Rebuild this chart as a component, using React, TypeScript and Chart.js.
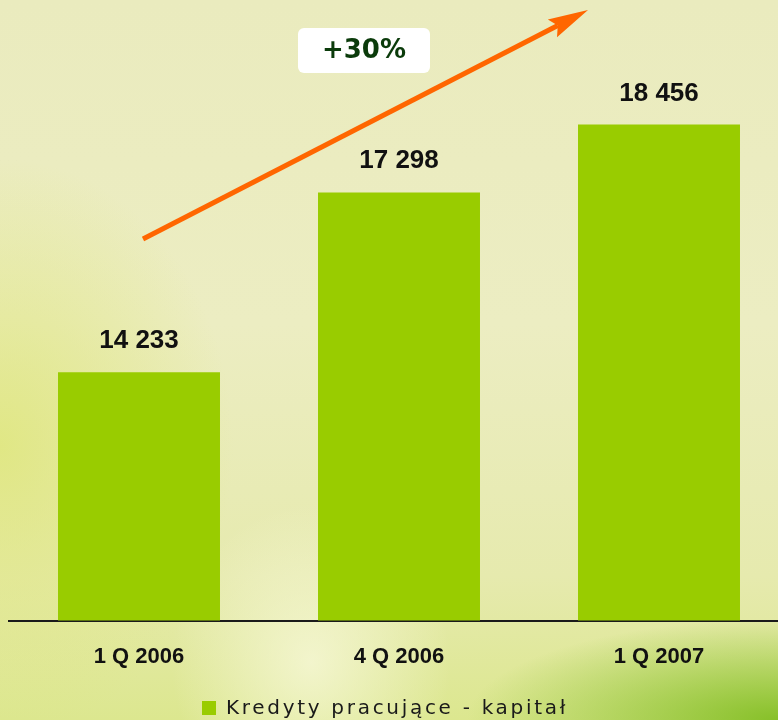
import React, { useEffect, useRef } from "react";
import { Chart, registerables } from "chart.js";

Chart.register(...registerables);

// ---- data ----
const categories = ["1 Q 2006", "4 Q 2006", "1 Q 2007"];
const values = [14233, 17298, 18456];
const seriesName = "Kredyty pracujące - kapitał";
const yMin = 10000;
const yMax = 20000;

// ---- styles ----
const BAR_COLOR = "#99CC00";
const ARROW_COLOR = "#FF6600";
const TEXT_COLOR = "#111111";

const fmt = (v: number) => String(v).replace(/\B(?=(\d{3})+(?!\d))/g, " ");
const growthPct = Math.round((values[values.length - 1] / values[0] - 1) * 100);

const valueLabels = {
  id: "valueLabels",
  afterDatasetsDraw(chart: any) {
    const ctx = chart.ctx;
    const meta = chart.getDatasetMeta(0);
    ctx.save();
    ctx.font = "bold 26px 'Liberation Sans', Arial, sans-serif";
    ctx.fillStyle = TEXT_COLOR;
    ctx.textAlign = "center";
    ctx.textBaseline = "alphabetic";
    meta.data.forEach((bar: any, i: number) => {
      ctx.fillText(fmt(chart.data.datasets[0].data[i]), bar.x, bar.y - 24);
    });
    ctx.restore();
  },
};

const decorations = {
  id: "decorations",
  afterDraw(chart: any) {
    const ctx = chart.ctx;
    ctx.save();
    // trend arrow
    const sx = 143, sy = 239, tx = 588, ty = 10;
    const dx = tx - sx, dy = ty - sy;
    const len = Math.hypot(dx, dy);
    const ux = dx / len, uy = dy / len;
    const px = -uy, py = ux;
    const headLen = 40, headW = 10;
    const bx = tx - ux * headLen, by = ty - uy * headLen;
    ctx.strokeStyle = ARROW_COLOR;
    ctx.lineWidth = 5;
    ctx.lineCap = "butt";
    ctx.beginPath();
    ctx.moveTo(sx, sy);
    ctx.lineTo(bx + ux * 6, by + uy * 6);
    ctx.stroke();
    ctx.fillStyle = ARROW_COLOR;
    ctx.beginPath();
    ctx.moveTo(tx, ty);
    ctx.lineTo(bx + px * headW, by + py * headW);
    ctx.lineTo(bx + ux * 6, by + uy * 6);
    ctx.lineTo(bx - px * headW, by - py * headW);
    ctx.closePath();
    ctx.fill();

    // growth badge
    const rx = 298, ry = 28, rw = 132, rh = 45;
    ctx.fillStyle = "#FFFFFF";
    ctx.beginPath();
    (ctx as any).roundRect(rx, ry, rw, rh, 6);
    ctx.fill();
    ctx.fillStyle = "#0B3B0B";
    ctx.font = "bold 26px 'DejaVu Sans', Verdana, sans-serif";
    ctx.textAlign = "center";
    ctx.textBaseline = "middle";
    ctx.fillText("+" + growthPct + "%", rx + rw / 2, ry + rh / 2 + 1);

    // legend
    const ds = chart.data.datasets[0];
    ctx.fillStyle = ds.backgroundColor;
    ctx.fillRect(202, 701, 14, 14);
    ctx.fillStyle = "#1a1a1a";
    ctx.font = "20px 'DejaVu Sans', Verdana, sans-serif";
    (ctx as any).letterSpacing = "2.7px";
    ctx.textAlign = "left";
    ctx.textBaseline = "middle";
    ctx.fillText(ds.label, 226, 709);
    ctx.restore();
  },
};

export default function App() {
  const ref = useRef<HTMLCanvasElement | null>(null);

  useEffect(() => {
    if (!ref.current) return;
    const chart = new Chart(ref.current, {
      type: "bar",
      data: {
        labels: categories,
        datasets: [
          {
            label: seriesName,
            data: values,
            backgroundColor: BAR_COLOR,
            borderWidth: 0,
            categoryPercentage: 1,
            barPercentage: 0.623,
          },
        ],
      },
      options: {
        animation: false,
        responsive: false,
        maintainAspectRatio: false,
        layout: { padding: { left: 9, right: 11, top: 34, bottom: 27 } },
        plugins: {
          legend: { display: false },
          tooltip: { enabled: false },
        },
        scales: {
          x: {
            grid: { display: false, drawTicks: false },
            border: { display: true, color: "#1a1a1a", width: 2 },
            ticks: {
              padding: 23,
              color: TEXT_COLOR,
              font: { family: "'Liberation Sans', Arial, sans-serif", size: 22, weight: "bold" },
            },
          },
          y: {
            display: false,
            min: yMin,
            max: yMax,
          },
        },
      },
      plugins: [valueLabels, decorations],
    });
    return () => chart.destroy();
  }, []);

  return (
    <div
      style={{
        position: "fixed",
        left: 0,
        top: 0,
        width: 778,
        height: 720,
        overflow: "hidden",
        background:
          "radial-gradient(ellipse 40% 14% at 100% 100%, rgba(130,190,35,0.95), rgba(130,190,35,0) 100%)," +
          "radial-gradient(ellipse 18% 22% at 40% 92%, rgba(250,250,225,0.7), rgba(250,250,225,0) 100%)," +
          "radial-gradient(ellipse 30% 40% at 0% 62%, rgba(222,230,120,0.8), rgba(222,230,120,0) 100%)," +
          "linear-gradient(180deg, #EAEBBE 0%, #ECEDC2 45%, #E6EAAE 80%, #DCE78F 100%)",
      }}
    >
      <canvas ref={ref} width={800} height={720} style={{ display: "block", width: 800, height: 720 }} />
    </div>
  );
}
